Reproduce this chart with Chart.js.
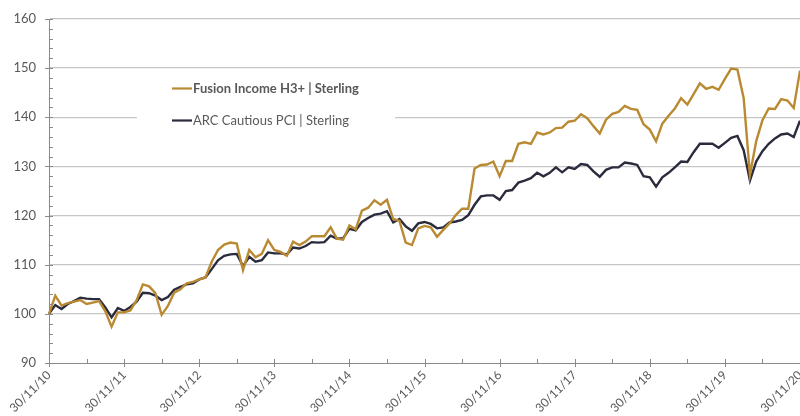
<!DOCTYPE html>
<html><head><meta charset="utf-8">
<script src="https://cdn.jsdelivr.net/npm/chart.js@4.4.1/dist/chart.umd.min.js"></script>
<style>html,body{margin:0;padding:0;background:#fff;overflow:hidden}canvas{display:block}</style>
</head><body>
<canvas id="c" width="800" height="416"></canvas>
<script>
const seriesNames = ['Fusion Income H3+ | Sterling', 'ARC Cautious PCI | Sterling'];
const tickLabels = ['30/11/10','30/11/11','30/11/12','30/11/13','30/11/14','30/11/15','30/11/16','30/11/17','30/11/18','30/11/19','30/11/20'];
const yRange = [90, 160];
const fusion = [
 100.0,103.7,101.7,102.2,102.5,102.8,102.0,102.3,102.6,100.5,97.4,100.3,
 100.3,100.7,102.8,106.0,105.6,104.2,99.8,101.6,104.3,105.0,106.2,106.5,
 107.0,107.4,110.6,113.0,114.1,114.5,114.3,108.9,113.0,111.5,112.2,115.0,
 113.0,112.6,111.8,114.7,114.0,114.7,115.8,115.8,115.8,117.6,115.3,115.1,
 118.0,117.2,121.0,121.6,123.1,122.2,123.2,119.3,118.9,114.5,114.0,117.4,
 117.9,117.6,115.7,117.1,118.4,120.1,121.4,121.4,129.6,130.3,130.4,131.0,
 128.0,131.1,131.1,134.6,134.9,134.6,136.9,136.5,136.9,137.8,137.9,139.1,
 139.3,140.6,139.8,138.2,136.7,139.5,140.7,141.1,142.3,141.7,141.5,138.6,
 137.5,135.1,138.7,140.3,141.8,143.9,142.6,144.7,146.9,145.8,146.2,145.6,
 147.8,149.9,149.7,143.9,128.3,135.1,139.4,141.8,141.7,143.7,143.4,141.9,
 149.5
];
const arc = [
 100.0,101.8,101.0,102.0,102.6,103.3,103.1,103.0,103.0,101.3,99.3,101.2,
 100.6,101.4,102.5,104.3,104.2,103.7,102.8,103.4,104.9,105.5,106.0,106.2,
 107.0,107.4,109.1,110.9,111.8,112.1,112.2,109.7,111.6,110.6,110.9,112.5,
 112.3,112.3,112.1,113.5,113.3,113.8,114.6,114.5,114.6,115.9,115.3,115.4,
 117.3,117.0,118.7,119.5,120.2,120.4,120.9,118.6,119.3,117.8,116.9,118.4,
 118.7,118.3,117.4,117.6,118.6,118.8,119.1,120.1,122.2,123.9,124.1,124.1,
 123.2,125.0,125.2,126.7,127.1,127.6,128.7,128.0,128.7,129.8,128.8,129.8,
 129.5,130.5,130.3,129.0,127.9,129.3,129.8,129.8,130.8,130.6,130.3,128.0,
 127.8,125.9,127.8,128.7,129.8,131.0,130.9,132.9,134.6,134.6,134.6,133.8,
 134.8,135.8,136.2,133.3,127.1,131.0,133.1,134.6,135.7,136.5,136.7,136.0,
 139.3
];

// month-end dates, 30/11/10 .. 30/11/20
const categories = [];
for (let k = 0; k < fusion.length; k++) {
  const d = new Date(Date.UTC(2010, 11 + k, 0));
  const dd = String(d.getUTCDate()).padStart(2,'0');
  const mm = String(d.getUTCMonth()+1).padStart(2,'0');
  const yy = String(d.getUTCFullYear()).slice(2);
  categories.push(dd + '/' + mm + '/' + yy);
}

const GOLD = '#B98A32';
const DARK = '#2B2B3E';
const AXIS = '#8A8A8A';
const GRID = '#C6C6C6';
const TXT = '#595959';
const FONT = 'Lato';

const axisTicks = {
  id: 'axisTicks',
  afterDraw(chart) {
    const {ctx, scales: {x, y}, chartArea: a} = chart;
    ctx.save();
    ctx.strokeStyle = AXIS; ctx.lineWidth = 1;
    ctx.beginPath();
    for (let v = yRange[0]; v <= yRange[1]; v += 2) {
      const py = Math.round(y.getPixelForValue(v)) + 0.5;
      const major = v % 10 === 0;
      ctx.moveTo(a.left - (major ? 4 : 0), py);
      ctx.lineTo(a.left + 4, py);
    }
    for (let i = 0; i < chart.data.labels.length; i += 6) {
      const px = Math.round(x.getPixelForValue(i)) + 0.5;
      const major = i % 12 === 0;
      ctx.moveTo(px, a.bottom + (major ? 4 : 0));
      ctx.lineTo(px, a.bottom - 4);
    }
    ctx.stroke();
    ctx.restore();
  }
};

const boxLegend = {
  id: 'boxLegend',
  afterDraw(chart) {
    const ctx = chart.ctx;
    ctx.save();
    ctx.fillStyle = '#fff';
    ctx.fillRect(137, 74, 258, 62);
    chart.data.datasets.forEach((ds, k) => {
      const yy = 88.5 + k * 32;
      ctx.strokeStyle = ds.borderColor; ctx.lineWidth = 2.2;
      ctx.beginPath(); ctx.moveTo(172, yy); ctx.lineTo(192, yy); ctx.stroke();
      ctx.fillStyle = TXT;
      ctx.font = (k === 0 ? 'bold ' : '') + '13px ' + FONT;
      ctx.textBaseline = 'middle';
      ctx.fillText(ds.label, 193, yy + 0.5);
    });
    ctx.restore();
  }
};

new Chart(document.getElementById('c').getContext('2d'), {
  type: 'line',
  data: {
    labels: categories,
    datasets: [
      {label: seriesNames[0], data: fusion, borderColor: GOLD, borderWidth: 2.4, pointRadius: 0, tension: 0, fill: false},
      {label: seriesNames[1], data: arc, borderColor: DARK, borderWidth: 2.4, pointRadius: 0, tension: 0, fill: false}
    ]
  },
  options: {
    responsive: false, animation: false, devicePixelRatio: 1,
    layout: {padding: {top: 19, left: 0, right: 0, bottom: 0}},
    plugins: {legend: {display: false}, tooltip: {enabled: false}},
    scales: {
      x: {
        type: 'category', offset: false,
        grid: {display: true, drawOnChartArea: false, drawTicks: false},
        border: {display: true, color: AXIS, width: 1},
        ticks: {
          autoSkip: false, maxRotation: 45, minRotation: 45, padding: 5,
          color: TXT, font: {family: FONT, size: 12},
          callback: function (v) { const l = this.getLabelForValue(v); return tickLabels.includes(l) ? l : ''; }
        },
        afterFit(s) { s.height = 53; s.paddingLeft = 0; s.paddingRight = 0; }
      },
      y: {
        min: yRange[0], max: yRange[1],
        ticks: {stepSize: 10, padding: 13, color: TXT, font: {family: FONT, size: 13}},
        grid: {color: (c) => c.tick && c.tick.value === yRange[0] ? 'rgba(0,0,0,0)' : GRID, lineWidth: 1.3, drawTicks: false},
        border: {display: true, color: AXIS, width: 1},
        afterFit(s) { s.width = 49; s.paddingTop = 0; s.paddingBottom = 0; }
      }
    }
  },
  plugins: [axisTicks, boxLegend]
});
</script>
</body></html>
